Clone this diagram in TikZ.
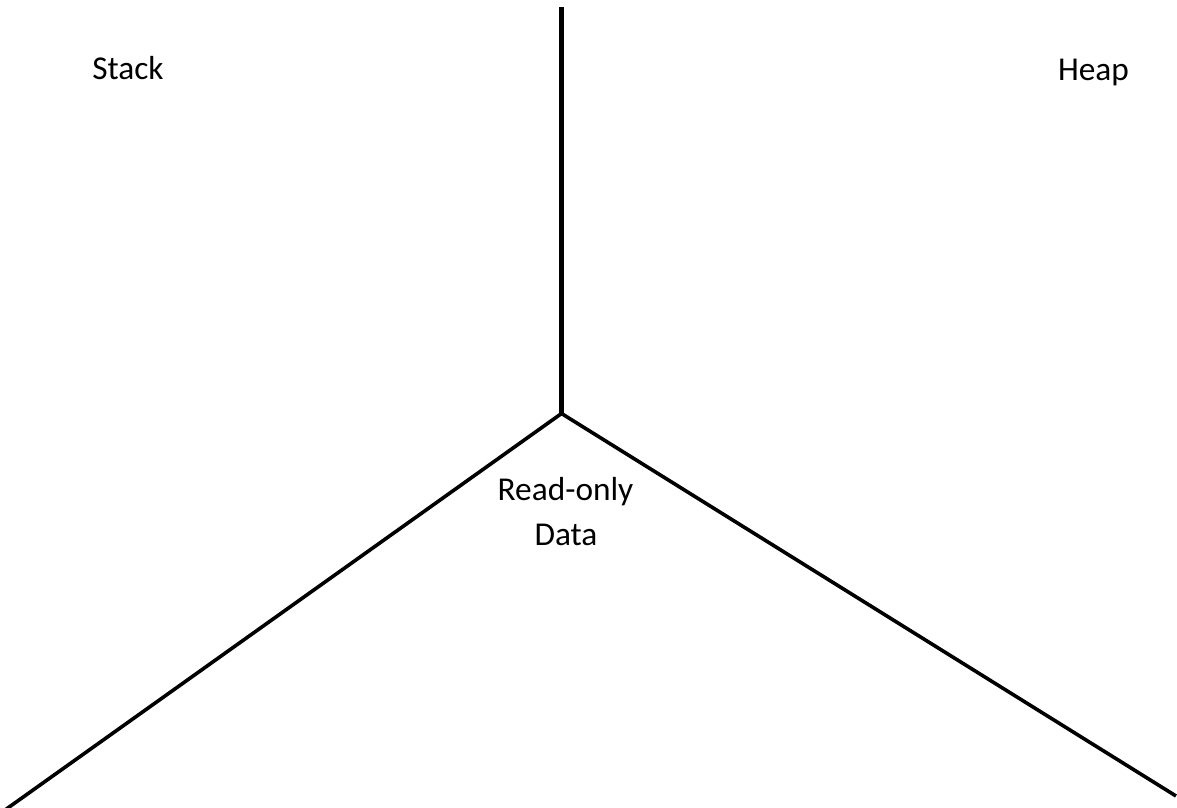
\documentclass[tikz,border=0pt]{standalone}
\usepackage{fontspec}
\setmainfont{Carlito}
\begin{document}
\begin{tikzpicture}[x=0.75pt,y=-0.75pt,
  divider/.style={line width=2.7pt,line cap=butt},
  spine/.style={line width=3.6pt},
  lbl/.style={font=\fontsize{25}{34}\selectfont,inner sep=0pt,anchor=base}]
\useasboundingbox (0,0) rectangle (1177,807);
\clip (0,0) rectangle (1177,807);
\coordinate (top) at (561.5,7);
\coordinate (mid) at (561.5,413.5);
\coordinate (bl) at (5,810);
\coordinate (br) at (1176,796);
\draw[spine] (top) -- (mid);
\draw[divider,line join=miter] (bl) -- (mid) -- (br);
\node[lbl] (stack) at (128,79.5) {Stack};
\node[lbl] (heap) at (1093.5,80.5) {Heap};
\node[lbl] (ro) at (565.5,500) {Read-only};
\node[lbl] (data) at (566,545.5) {Data};
\end{tikzpicture}
\end{document}
